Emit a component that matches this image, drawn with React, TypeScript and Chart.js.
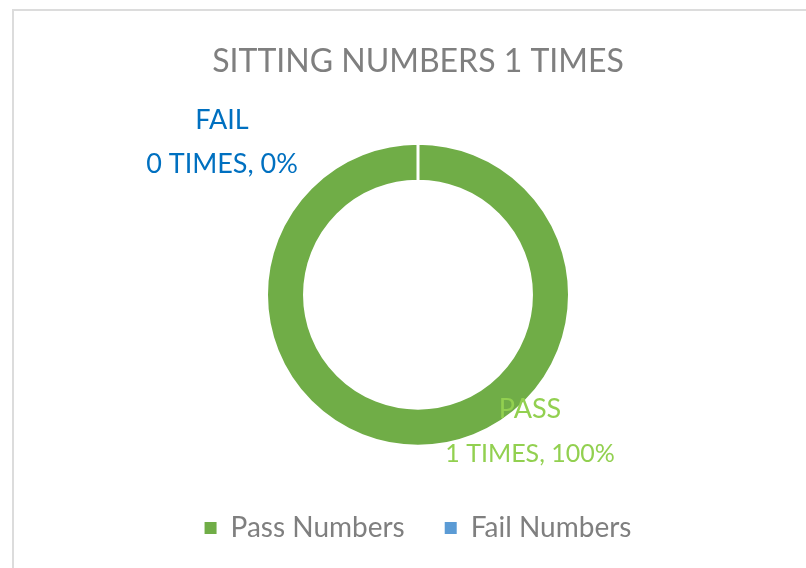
import React, { useEffect, useRef } from "react";
import { Chart, registerables } from "chart.js";

Chart.register(...registerables);

const categories = ["Pass Numbers", "Fail Numbers"];
const shortNames = ["PASS", "FAIL"];
const values = [1, 0];
const sliceColors = ["#70AD47", "#5B9BD5"];
const labelColors = ["#92D050", "#0070C0"];
const titleText = "SITTING NUMBERS 1 TIMES";

const FONT = "Lato, 'Open Sans', sans-serif";

// label layout: offsets from doughnut centre (px) for [name baseline, value baseline]
const labelLayout = [
  { dx: 112, dy1: 123, dy2: 167, s2: 25 }, // PASS
  { dx: -196, dy1: -166, dy2: -122, s2: 27 }, // FAIL
];

const dataLabelPlugin = {
  id: "dataLabels",
  afterDraw(chart: any) {
    const meta = chart.getDatasetMeta(0);
    const arc = meta.data[0];
    if (!arc) return;
    const cx = arc.x;
    const cy = arc.y;
    const data = chart.data.datasets[0].data as number[];
    const total = data.reduce((a: number, b: number) => a + b, 0);
    const ctx = chart.ctx;
    ctx.save();
    ctx.textAlign = "center";
    ctx.textBaseline = "alphabetic";
    data.forEach((v: number, i: number) => {
      const l = labelLayout[i];
      const pct = total ? Math.round((v / total) * 100) : 0;
      ctx.fillStyle = labelColors[i];
      ctx.font = `27px ${FONT}`;
      ctx.fillText(shortNames[i], cx + l.dx, cy + l.dy1);
      ctx.font = `${l.s2}px ${FONT}`;
      ctx.fillText(`${v} TIMES, ${pct}%`, cx + l.dx, cy + l.dy2);
    });
    ctx.restore();
  },
};

export default function App() {
  const ref = useRef<HTMLCanvasElement>(null);
  useEffect(() => {
    if (!ref.current) return;
    const baseGen = (Chart as any).overrides.doughnut.plugins.legend.labels.generateLabels;
    const chart = new Chart(ref.current, {
      type: "doughnut",
      data: {
        labels: categories,
        datasets: [
          {
            data: values,
            backgroundColor: sliceColors,
            borderColor: "#ffffff",
            borderWidth: 3,
          },
        ],
      },
      options: {
        animation: false,
        responsive: false,
        maintainAspectRatio: false,
        radius: 151.5,
        cutout: "74.9%",
        layout: { padding: { left: 30, right: 0, top: 0, bottom: 48 } },
        plugins: {
          title: {
            display: true,
            text: titleText,
            color: "#7F7F7F",
            font: { family: FONT, size: 32, weight: "normal" },
            padding: { top: 42, bottom: 35 },
          },
          legend: {
            position: "bottom",
            labels: {
              color: "#7F7F7F",
              font: { family: FONT, size: 28 },
              boxWidth: 12,
              boxHeight: 12,
              padding: 40,
              generateLabels: (c: any) =>
                baseGen(c).map((l: any) => ({ ...l, lineWidth: 0 })),
            },
          },
          tooltip: { enabled: false },
        },
      } as any,
      plugins: [dataLabelPlugin],
    });
    return () => chart.destroy();
  }, []);

  return (
    <div
      style={{
        position: "absolute",
        left: 0,
        top: 0,
        width: 806,
        height: 568,
        overflow: "hidden",
        background: "#ffffff",
      }}
    >
      <div
        style={{
          position: "absolute",
          left: 12,
          top: 9,
          width: 900,
          height: 700,
          borderTop: "2px solid #dcdcdc",
          borderLeft: "2px solid #dcdcdc",
        }}
      />
      <canvas
        ref={ref}
        width={806}
        height={600}
        style={{ position: "absolute", left: 0, top: 0, width: 806, height: 600 }}
      />
    </div>
  );
}
